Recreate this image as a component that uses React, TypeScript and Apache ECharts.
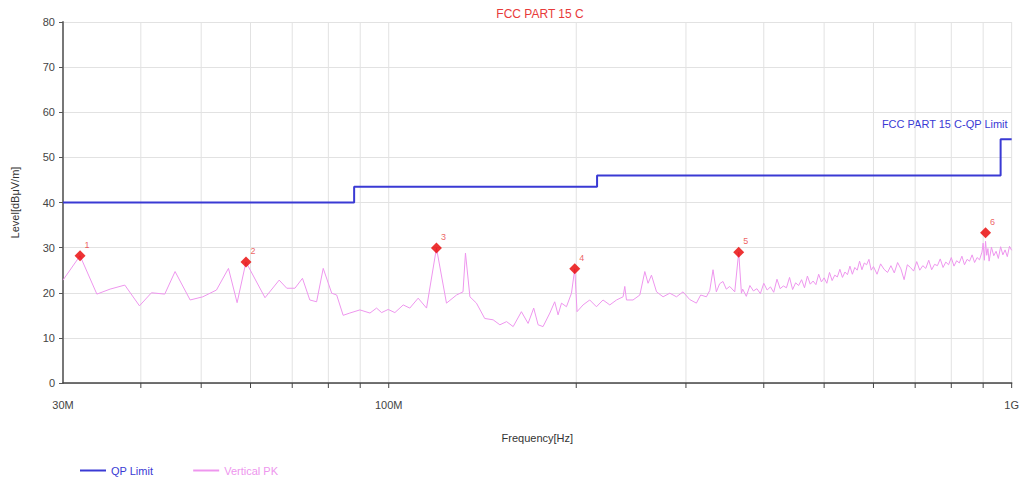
import React, { useEffect, useRef } from "react";
import * as echarts from "echarts";

// Frequencies in MHz, levels in dBμV/m
const limitFreq = [30, 88, 88, 216, 216, 960, 960, 1000];
const limitLevel = [40, 40, 43.5, 43.5, 46, 46, 54, 54];

const traceFreq = [
  30.0, 31.95, 34.0, 35.7, 37.7, 39.8, 41.6, 43.7, 45.4, 48.0, 50.3, 52.9, 55.3, 57.1, 59.0,
  63.3, 66.7, 68.6, 70.7, 72.7, 74.7, 76.6, 78.5, 81.0, 82.5, 84.5, 86.6, 89.9, 93.3, 95.6,
  97.4, 99.8, 102.3, 105.5, 108.1, 111.5, 115.0, 119.3, 123.8, 128.5, 131.6, 132.8, 135.0,
  138.3, 142.6, 147.1, 150.8, 154.6, 158.4, 163.3, 167.4, 170.9, 173.7, 176.9, 181.4, 184.7,
  187.0, 189.4, 192.9, 196.5, 198.9, 200.6, 205.1, 210.2, 215.5, 220.8, 226.4, 232.1, 237.8,
  239.3, 240.8, 246.7, 253.0, 257.7, 260.8, 264.1, 269.1, 275.7, 282.6, 289.7, 296.8, 304.2,
  311.8, 316.8, 323.6, 327.6, 331.6, 335.7, 339.8, 344.0, 348.3, 352.7, 359.3, 364.6, 368.3,
  370, 375, 380, 385, 390, 395, 400, 405, 410, 415, 420, 425, 430, 435, 440, 445, 450, 455,
  460, 465, 470, 475, 480, 485, 490, 495, 500, 505, 510, 515, 520, 525, 530, 535, 540, 545,
  550, 555, 560, 565, 570, 575, 580, 585, 590, 595, 600, 608, 616, 624, 632, 640, 648, 656,
  664, 672, 680, 688, 696, 704, 712, 720, 728, 736, 744, 752, 760, 768, 776, 784, 792, 800,
  808, 816, 824, 832, 840, 848, 856, 864, 872, 880, 888, 896, 900, 904, 908, 912, 916, 920,
  928, 936, 944, 952, 960, 968, 976, 984, 992, 1000,
];
const traceLevel = [
  22.8, 28.2, 19.7, 20.8, 21.7, 17.1, 20.0, 19.7, 24.7, 18.4, 19.1, 20.6, 25.4, 17.8, 26.8,
  18.9, 22.8, 21.0, 21.0, 23.2, 18.4, 18.0, 25.4, 19.9, 19.5, 15.0, 15.5, 16.2, 15.5, 16.6,
  15.6, 16.3, 15.6, 17.3, 16.6, 18.8, 16.6, 29.9, 17.7, 19.5, 20.2, 28.8, 19.1,
  17.7, 14.3, 14.0, 12.9, 13.6, 12.5, 15.8, 13.2, 16.6, 12.9, 12.5, 15.5, 18.0,
  15.1, 17.7, 16.9, 19.9, 25.3, 15.8, 17.3, 18.4, 16.9, 18.4, 17.3, 18.4, 19.1,
  21.4, 18.4, 18.4, 19.5, 24.7, 22.1, 23.9, 20.2, 19.1, 19.9, 19.1, 20.2, 18.5,
  17.7, 19.5, 19.1, 20.5, 25.1, 20.2, 22.0, 22.5, 20.8, 21.4, 20.2, 29.0, 19.9,
  20.8, 19.2, 21.6, 20.4, 20.9, 19.8, 22.1, 20.6, 21.3, 20.1, 23.0, 20.9, 21.5, 21.1, 23.4, 20.7, 22.2, 21.6,
  22.9, 21.1, 23.7, 21.9, 22.6, 21.8, 24.1, 22.4, 23.3, 22.1, 24.5, 22.7, 23.9, 23.5, 25.2, 23.4, 24.6, 24.0,
  25.9, 24.1, 25.6, 25.0, 27.0, 25.1, 26.6, 26.2, 27.4, 25.0, 25.8, 24.1, 26.4, 25.2, 24.5, 26.0, 24.4, 26.7,
  25.3, 22.9, 26.2, 25.6, 24.8, 26.9, 25.0, 26.0, 25.4, 27.2, 25.1, 26.3, 26.0, 27.5, 25.6, 26.8, 26.2, 27.8,
  25.9, 27.1, 26.6, 28.1, 26.2, 27.4, 27.0, 28.4, 26.7, 27.8, 27.3, 29.0, 31.0, 27.2, 31.4, 28.3, 29.8, 27.0,
  30.1, 28.2, 29.2, 27.6, 30.2, 28.4, 29.5, 28.0, 30.3, 29.4,
];

const markerNames = ["1", "2", "3", "4", "5", "6"];
const markerFreq = [31.95, 59.0, 119.3, 198.9, 364.6, 908];
const markerLevel = [28.2, 26.8, 29.9, 25.3, 29.0, 33.3];

const gridFreq = [40, 50, 60, 70, 80, 90, 100, 200, 300, 400, 500, 600, 700, 800, 900, 1000];
const xTickLabels: Record<number, string> = { 30: "30M", 100: "100M", 1000: "1G" };

const FONT = "'Liberation Sans Narrow', 'Liberation Sans', Arial, sans-serif";
const LIMIT_COLOR = "#3a3ad4";
const TRACE_COLOR = "#ee96ee";

export default function App() {
  const ref = useRef<HTMLDivElement>(null);
  useEffect(() => {
    if (!ref.current) return;
    const chart = echarts.init(ref.current, undefined, { renderer: "svg" });
    chart.setOption({
      animation: false,
      backgroundColor: "#ffffff",
      textStyle: { fontFamily: FONT },
      title: {
        text: "FCC PART 15 C",
        left: 535,
        textAlign: "center",
        top: 3,
        textStyle: { color: "#e83a3a", fontSize: 12, fontWeight: "normal", fontFamily: FONT },
      },
      legend: {
        left: 75,
        top: 460,
        icon: "rect",
        itemWidth: 26,
        itemHeight: 2,
        itemGap: 40,
        data: [
          { name: "QP Limit", textStyle: { color: LIMIT_COLOR } },
          { name: "Vertical PK", textStyle: { color: TRACE_COLOR } },
        ],
        textStyle: { fontSize: 11, fontFamily: FONT },
      },
      grid: { left: 63, right: 10, top: 22, bottom: 98, containLabel: false },
      xAxis: {
        type: "log",
        logBase: 10,
        min: 30,
        max: 1000,
        name: "Frequency[Hz]",
        nameLocation: "middle",
        nameGap: 49,
        nameTextStyle: { color: "#333", fontSize: 11, fontFamily: FONT },
        axisLine: { show: true, onZero: false, lineStyle: { color: "#444", width: 1.5 } },
        axisTick: { show: false },
        splitLine: { show: false },
        axisLabel: {
          color: "#444",
          fontSize: 11,
          margin: 16,
          formatter: (v: number) => xTickLabels[Math.round(v)] ?? "",
        },
      },
      yAxis: {
        type: "value",
        min: 0,
        max: 80,
        interval: 10,
        name: "Level[dBμV/m]",
        nameLocation: "middle",
        nameRotate: 90,
        nameGap: 43,
        nameTextStyle: { color: "#333", fontSize: 11, fontFamily: FONT },
        axisLine: { show: true, lineStyle: { color: "#777", width: 2 } },
        axisTick: { show: true, length: 4, lineStyle: { color: "#555" } },
        axisLabel: { color: "#444", fontSize: 11, margin: 8 },
        splitLine: { show: true, lineStyle: { color: "#e2e2e2", width: 1 } },
      },
      graphic: [
        {
          type: "text",
          right: 14,
          top: 118,
          style: { text: "FCC PART 15 C-QP Limit", fill: LIMIT_COLOR, fontSize: 11, fontFamily: FONT },
        },
      ],
      series: [
        {
          type: "custom",
          name: "grid",
          silent: true,
          clip: false,
          z: 0,
          data: gridFreq.map((f) => [f, 0]),
          renderItem: (params: any, api: any) => {
            const f = api.value(0);
            const b = api.coord([f, 0]);
            const t = api.coord([f, 80]);
            return {
              type: "group",
              children: [
                {
                  type: "line",
                  shape: { x1: b[0], y1: t[1], x2: b[0], y2: b[1] },
                  style: { stroke: "#e2e2e2", lineWidth: 1 },
                },
                {
                  type: "line",
                  shape: { x1: b[0], y1: b[1], x2: b[0], y2: b[1] + 5 },
                  style: { stroke: "#444", lineWidth: 1 },
                },
              ],
            };
          },
        },
        {
          type: "line",
          name: "QP Limit",
          data: limitFreq.map((f, i) => [f, limitLevel[i]]),
          symbol: "none",
          lineStyle: { color: LIMIT_COLOR, width: 2 },
          itemStyle: { color: LIMIT_COLOR },
          z: 3,
        },
        {
          type: "line",
          name: "Vertical PK",
          data: traceFreq.map((f, i) => [f, traceLevel[i]]),
          symbol: "none",
          lineStyle: { color: TRACE_COLOR, width: 1 },
          itemStyle: { color: TRACE_COLOR },
          z: 2,
        },
        {
          type: "scatter",
          name: "Markers",
          data: markerFreq.map((f, i) => ({ name: markerNames[i], value: [f, markerLevel[i]] })),
          symbol: "diamond",
          symbolSize: 11,
          itemStyle: { color: "#e80000" },
          label: {
            show: true,
            formatter: (p: any) => p.name,
            position: [10, -10],
            color: "#e83a3a",
            fontSize: 9,
            fontFamily: FONT,
          },
          z: 4,
        },
      ],
    });
    return () => chart.dispose();
  }, []);
  return (
    <div
      ref={ref}
      style={{ position: "absolute", left: 0, top: 0, width: 1022, height: 481 }}
    />
  );
}
